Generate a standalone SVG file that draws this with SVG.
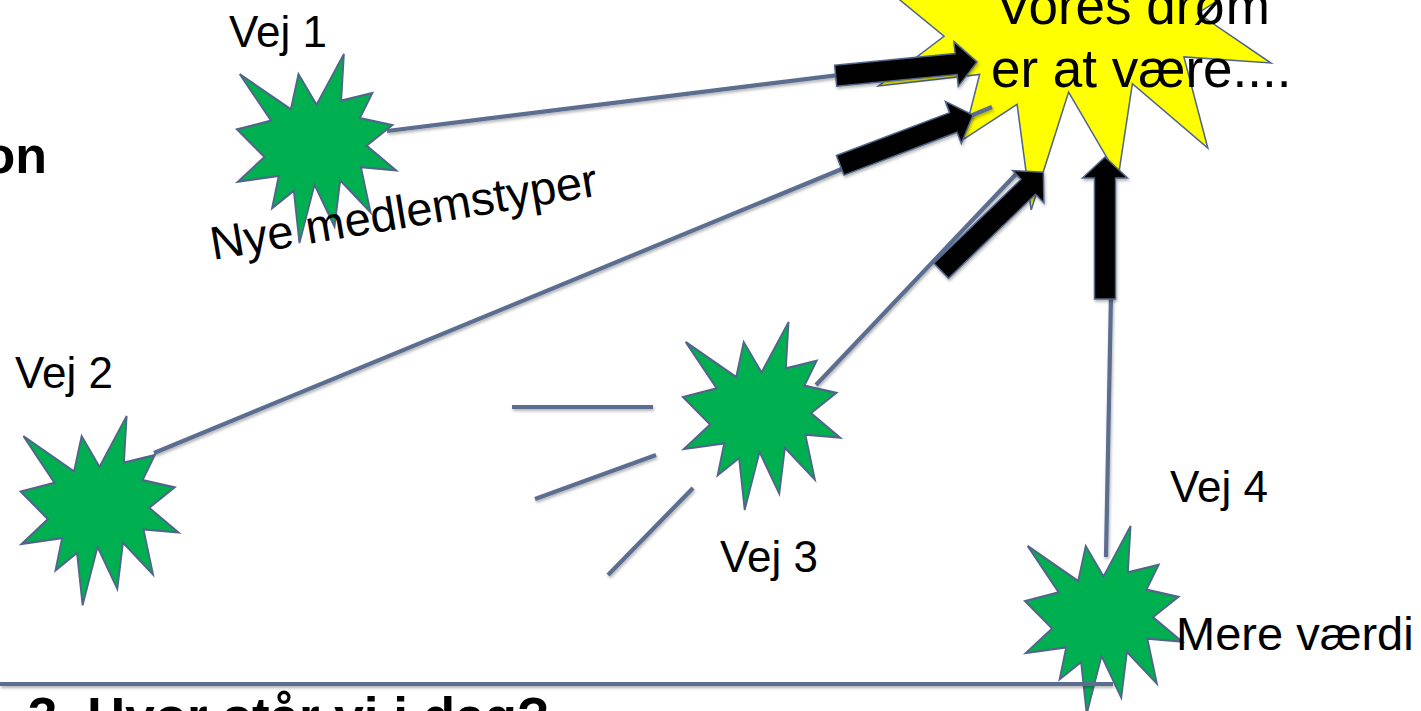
<svg xmlns="http://www.w3.org/2000/svg" xmlns:xlink="http://www.w3.org/1999/xlink" width="1421" height="711" viewBox="0 0 1421 711">
<style>
.txt{font-family:"Liberation Sans",Arial,sans-serif;fill:#000}
.bold{font-weight:bold}
.green{fill:#00B050;stroke:#50658A;stroke-width:2.5;stroke-linejoin:miter}
.yellow{fill:#FFFF00;stroke:#50658A;stroke-width:0.85}
.conn{stroke:#5B6E90;stroke-width:4.2;fill:none;stroke-linecap:butt}
.blk{fill:#000;stroke:#50658A;stroke-width:1.5;stroke-linejoin:miter}
</style>
<defs>
<filter id="sh" filterUnits="userSpaceOnUse" x="-50" y="-50" width="1521" height="811">
<feDropShadow dx="1" dy="2" stdDeviation="1.5" flood-color="#000" flood-opacity="0.3"/>
</filter>
<path id="seal" d="M108,58 L145.22,0 L141.55,53.25 L183.8,44.57 L167.02,73.15 L210.97,81.37 L176.07,104.75 L216,132.9 L168.37,129.42 L181.45,180.95 L140.2,144.57 L132.47,197.37 L105.32,149.35 L84.85,216 L77.15,156.27 L47.62,176.17 L56.67,139.37 L1.35,145.87 L37.22,117.75 L0,86.15 L46.27,76.17 L3.7,22.95 L73.12,63.2 L83.52,22.95 Z"/>
<polygon id="arrow" points="0,-10.5 121,-10.5 121,-22.5 142,0 121,22.5 121,10.5 0,10.5"/>
</defs>
<rect width="1421" height="711" fill="#fff"/>

<g id="dream">
<use href="#seal" class="yellow" transform="translate(876,-172) scale(1.8287,1.7685)"/>
</g>

<g id="connectors" filter="url(#sh)">
<line class="conn" x1="387" y1="131" x2="960" y2="60"/>
<line class="conn" x1="154" y1="453" x2="992" y2="107"/>
<line class="conn" x1="816" y1="385" x2="1018" y2="172"/>
<line class="conn" x1="1106" y1="557" x2="1111" y2="295"/>
<line class="conn" x1="512" y1="407" x2="653" y2="407"/>
<line class="conn" x1="535" y1="499" x2="656" y2="455"/>
<line class="conn" x1="608" y1="575" x2="693" y2="488"/>
</g>

<g id="arrows" filter="url(#sh)">
<use href="#arrow" class="blk" transform="translate(835.7,75.7) rotate(-5.55)"/>
<use href="#arrow" class="blk" transform="translate(840.2,165.3) rotate(-20.75)"/>
<use href="#arrow" class="blk" transform="translate(941.2,270.8) rotate(-44)"/>
<use href="#arrow" class="blk" transform="translate(1105,299) rotate(-90)"/>
</g>

<g id="dream-text">
<text class="txt" x="996" y="24" font-size="53">Vores drøm</text>
<text class="txt" x="991" y="87" font-size="53">er at være....</text>
</g>

<g id="vej1">
<use href="#seal" class="green" transform="translate(237,54) scale(0.7361,0.875)"/>
<text class="txt" x="229" y="47" font-size="44">Vej 1</text>
<text class="txt" x="213" y="260" font-size="47" transform="rotate(-9.5 213 260)">Nye medlemstyper</text>
</g>

<g id="vej2">
<use href="#seal" class="green" transform="translate(20.7,416) scale(0.7296,0.8764)"/>
<text class="txt" x="15" y="388" font-size="44">Vej 2</text>
</g>

<g id="vej3">
<use href="#seal" class="green" transform="translate(683,322) scale(0.7269,0.8704)"/>
<text class="txt" x="720" y="572" font-size="44">Vej 3</text>
</g>

<g id="vej4">
<use href="#seal" class="green" transform="translate(1025,526) scale(0.7269,0.8704)"/>
<text class="txt" x="1170" y="502" font-size="44">Vej 4</text>
<text class="txt" x="1176" y="650" font-size="47">Mere værdi</text>
</g>

<g id="bottom-line" filter="url(#sh)">
<line class="conn" x1="0" y1="684" x2="1113" y2="684" stroke-width="5"/>
</g>

<g id="titles">
<text class="txt bold" x="47" y="173" font-size="52" text-anchor="end">on</text>
<text class="txt bold" x="28" y="735" font-size="53">3. Hvor står vi i dag?</text>
</g>
</svg>
